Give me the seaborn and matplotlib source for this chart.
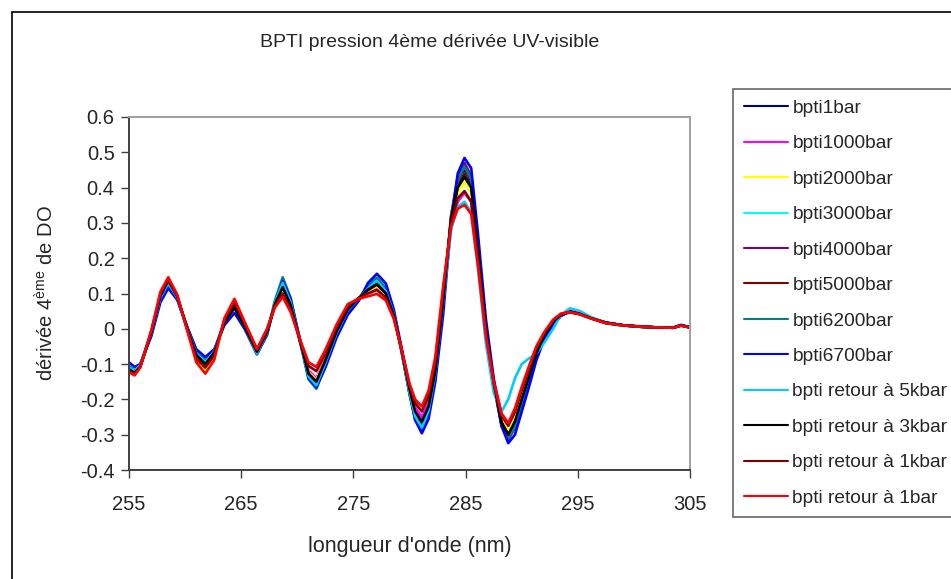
import numpy as np
import pandas as pd
import matplotlib
matplotlib.use("Agg")
import matplotlib.pyplot as plt
from matplotlib.patches import Rectangle
from matplotlib.ticker import FuncFormatter, MultipleLocator
import seaborn as sns

# longueur d'onde (nm), grille commune
lambda_nm = [255, 255.5, 256, 257, 257.8, 258.5, 259.3, 260.2, 261, 261.8,
             262.6, 263.5, 264.4, 265.3, 266.4, 267.3, 268, 268.7, 269.4, 270.3,
             271, 271.7, 272.5, 273.5, 274.5, 275.5, 276.3, 277.1, 277.9, 278.6,
             279.3, 280, 280.5, 281.1, 281.7, 282.3, 283, 283.7, 284.3, 284.9,
             285.5, 286.1, 286.8, 287.5, 288.2, 288.8, 289.4, 290, 290.6, 291.3,
             292, 292.8, 293.5, 294.3, 295.2, 296.2, 297.5, 299, 300.5, 302,
             303.5, 304.2, 305]

bpti1bar = [-0.11, -0.12, -0.105, -0.012, 0.088, 0.13, 0.088, 0.0, -0.074, -0.1,
            -0.068, 0.02, 0.065, 0.01, -0.065, -0.01, 0.07, 0.12, 0.068, -0.042,
            -0.127, -0.15, -0.092, -0.008, 0.055, 0.088, 0.113, 0.13, 0.102, 0.04,
            -0.062, -0.175, -0.24, -0.27, -0.225, -0.125, 0.075, 0.31, 0.415, 0.45,
            0.415, 0.235, 0.005, -0.155, -0.27, -0.31, -0.275, -0.21, -0.15, -0.075,
            -0.022, 0.018, 0.039, 0.048, 0.042, 0.03, 0.017, 0.01, 0.006, 0.004,
            0.003, 0.01, 0.004]
bpti1000bar = [-0.11, -0.12, -0.104, -0.01, 0.092, 0.135, 0.09, 0.0, -0.077, -0.105,
               -0.072, 0.02, 0.07, 0.012, -0.065, -0.01, 0.066, 0.115, 0.066, -0.038,
               -0.118, -0.14, -0.085, -0.008, 0.057, 0.087, 0.105, 0.115, 0.092, 0.036,
               -0.058, -0.16, -0.222, -0.25, -0.208, -0.112, 0.085, 0.285, 0.36, 0.385,
               0.36, 0.2, -0.005, -0.142, -0.24, -0.27, -0.24, -0.185, -0.128, -0.062,
               -0.016, 0.022, 0.041, 0.048, 0.042, 0.03, 0.017, 0.01, 0.006, 0.004,
               0.003, 0.009, 0.004]
bpti2000bar = [-0.115, -0.125, -0.108, -0.01, 0.092, 0.135, 0.09, -0.002, -0.085, -0.115,
               -0.08, 0.018, 0.075, 0.014, -0.065, -0.01, 0.064, 0.11, 0.062, -0.04,
               -0.123, -0.145, -0.088, -0.008, 0.056, 0.087, 0.108, 0.12, 0.097, 0.038,
               -0.06, -0.17, -0.235, -0.265, -0.222, -0.12, 0.08, 0.3, 0.385, 0.415,
               0.385, 0.215, 0.0, -0.15, -0.252, -0.285, -0.252, -0.195, -0.136, -0.068,
               -0.019, 0.02, 0.04, 0.048, 0.042, 0.03, 0.017, 0.01, 0.006, 0.004,
               0.003, 0.01, 0.004]
bpti3000bar = [-0.105, -0.115, -0.1, -0.012, 0.085, 0.125, 0.085, 0.0, -0.07, -0.095,
               -0.065, 0.02, 0.065, 0.01, -0.07, -0.012, 0.074, 0.13, 0.075, -0.043,
               -0.135, -0.16, -0.097, -0.01, 0.054, 0.086, 0.11, 0.125, 0.1, 0.04,
               -0.065, -0.182, -0.252, -0.285, -0.237, -0.13, 0.07, 0.305, 0.405, 0.44,
               0.405, 0.225, 0.0, -0.155, -0.265, -0.3, -0.268, -0.205, -0.145, -0.073,
               -0.021, 0.018, 0.04, 0.05, 0.043, 0.031, 0.017, 0.01, 0.006, 0.004,
               0.003, 0.01, 0.004]
bpti4000bar = [-0.11, -0.12, -0.104, -0.013, 0.087, 0.13, 0.088, 0.0, -0.074, -0.1,
               -0.068, 0.02, 0.065, 0.01, -0.068, -0.012, 0.072, 0.125, 0.072, -0.043,
               -0.135, -0.16, -0.098, -0.012, 0.052, 0.085, 0.112, 0.13, 0.103, 0.041,
               -0.066, -0.185, -0.257, -0.29, -0.242, -0.133, 0.068, 0.32, 0.432, 0.47,
               0.432, 0.245, 0.008, -0.158, -0.275, -0.315, -0.28, -0.215, -0.152, -0.077,
               -0.023, 0.017, 0.039, 0.048, 0.042, 0.03, 0.017, 0.01, 0.006, 0.004,
               0.003, 0.01, 0.004]
bpti5000bar = [-0.115, -0.125, -0.108, -0.011, 0.092, 0.135, 0.09, 0.0, -0.07, -0.095,
               -0.064, 0.021, 0.07, 0.012, -0.065, -0.01, 0.07, 0.12, 0.069, -0.041,
               -0.127, -0.15, -0.091, -0.009, 0.055, 0.087, 0.11, 0.125, 0.1, 0.039,
               -0.062, -0.175, -0.24, -0.27, -0.225, -0.124, 0.075, 0.305, 0.405, 0.44,
               0.405, 0.228, 0.003, -0.153, -0.265, -0.3, -0.267, -0.205, -0.145, -0.073,
               -0.021, 0.018, 0.039, 0.048, 0.042, 0.03, 0.017, 0.01, 0.006, 0.004,
               0.003, 0.01, 0.004]
bpti6200bar = [-0.105, -0.12, -0.103, -0.014, 0.083, 0.125, 0.085, 0.002, -0.066, -0.09,
               -0.06, 0.018, 0.06, 0.006, -0.072, -0.014, 0.08, 0.146, 0.088, -0.045,
               -0.143, -0.17, -0.105, -0.015, 0.05, 0.087, 0.122, 0.145, 0.115, 0.046,
               -0.066, -0.183, -0.252, -0.285, -0.24, -0.133, 0.068, 0.315, 0.422, 0.46,
               0.424, 0.24, 0.007, -0.157, -0.272, -0.31, -0.277, -0.213, -0.15, -0.076,
               -0.023, 0.017, 0.04, 0.05, 0.043, 0.031, 0.017, 0.01, 0.006, 0.004,
               0.003, 0.01, 0.004]
bpti6700bar = [-0.095, -0.108, -0.1, -0.02, 0.075, 0.115, 0.082, 0.005, -0.058, -0.08,
               -0.058, 0.01, 0.045, 0.0, -0.072, -0.018, 0.07, 0.135, 0.085, -0.038,
               -0.14, -0.165, -0.11, -0.025, 0.04, 0.08, 0.13, 0.156, 0.128, 0.055,
               -0.055, -0.18, -0.258, -0.296, -0.255, -0.15, 0.04, 0.3, 0.44, 0.484,
               0.455, 0.27, 0.03, -0.14, -0.275, -0.324, -0.3, -0.235, -0.17, -0.09,
               -0.03, 0.012, 0.036, 0.05, 0.044, 0.031, 0.018, 0.01, 0.007, 0.004,
               0.003, 0.011, 0.004]
retour_5kbar = [-0.11, -0.12, -0.102, -0.012, 0.088, 0.13, 0.088, 0.0, -0.07, -0.095,
                -0.064, 0.018, 0.06, 0.006, -0.07, -0.012, 0.074, 0.13, 0.076, -0.042,
                -0.135, -0.16, -0.097, -0.012, 0.053, 0.086, 0.114, 0.135, 0.106, 0.042,
                -0.062, -0.18, -0.248, -0.28, -0.232, -0.125, 0.075, 0.28, 0.345, 0.36,
                0.33, 0.17, -0.04, -0.18, -0.235, -0.2, -0.14, -0.1, -0.085, -0.07,
                -0.04, 0.0, 0.04, 0.058, 0.05, 0.033, 0.016, 0.008, 0.006, 0.003,
                0.003, 0.009, 0.004]
retour_3kbar = [-0.115, -0.125, -0.107, -0.01, 0.093, 0.137, 0.092, 0.0, -0.074, -0.1,
                -0.067, 0.017, 0.06, 0.006, -0.065, -0.01, 0.069, 0.118, 0.068, -0.04,
                -0.127, -0.15, -0.09, -0.008, 0.055, 0.087, 0.111, 0.127, 0.1, 0.039,
                -0.06, -0.17, -0.234, -0.263, -0.22, -0.12, 0.08, 0.31, 0.4, 0.43,
                0.4, 0.225, 0.002, -0.152, -0.265, -0.3, -0.262, -0.2, -0.14, -0.07,
                -0.02, 0.02, 0.04, 0.048, 0.042, 0.03, 0.017, 0.01, 0.006, 0.004,
                0.003, 0.01, 0.004]
retour_1kbar = [-0.12, -0.128, -0.108, -0.005, 0.098, 0.14, 0.092, -0.004, -0.085, -0.11,
                -0.075, 0.025, 0.075, 0.016, -0.06, -0.004, 0.065, 0.1, 0.055, -0.04,
                -0.105, -0.12, -0.07, 0.005, 0.065, 0.088, 0.1, 0.11, 0.088, 0.032,
                -0.06, -0.16, -0.21, -0.234, -0.19, -0.095, 0.11, 0.3, 0.37, 0.39,
                0.36, 0.2, -0.01, -0.15, -0.245, -0.275, -0.235, -0.175, -0.118, -0.055,
                -0.012, 0.024, 0.042, 0.047, 0.041, 0.029, 0.016, 0.01, 0.006, 0.004,
                0.003, 0.009, 0.004]
retour_1bar = [-0.123, -0.132, -0.11, -0.003, 0.105, 0.146, 0.097, -0.006, -0.095, -0.127,
               -0.088, 0.03, 0.085, 0.02, -0.057, 0.0, 0.06, 0.09, 0.048, -0.035,
               -0.095, -0.108, -0.06, 0.012, 0.07, 0.085, 0.092, 0.099, 0.08, 0.028,
               -0.058, -0.155, -0.2, -0.22, -0.175, -0.08, 0.12, 0.29, 0.34, 0.351,
               0.325, 0.18, -0.02, -0.15, -0.24, -0.267, -0.225, -0.165, -0.11, -0.05,
               -0.01, 0.026, 0.043, 0.047, 0.041, 0.029, 0.016, 0.01, 0.006, 0.004,
               0.003, 0.009, 0.004]

series_names = ["bpti1bar", "bpti1000bar", "bpti2000bar", "bpti3000bar",
                "bpti4000bar", "bpti5000bar", "bpti6200bar", "bpti6700bar",
                "bpti retour à 5kbar", "bpti retour à 3kbar",
                "bpti retour à 1kbar", "bpti retour à 1bar"]
series_values = [bpti1bar, bpti1000bar, bpti2000bar, bpti3000bar,
                 bpti4000bar, bpti5000bar, bpti6200bar, bpti6700bar,
                 retour_5kbar, retour_3kbar, retour_1kbar, retour_1bar]
series_colors = ["#000080", "#FF00FF", "#FFFF00", "#00FFFF",
                 "#800080", "#800000", "#008080", "#0000FF",
                 "#00CCFF", "#000000", "#800000", "#FF0000"]
x_ticks = [255, 265, 275, 285, 295, 305]

rows = []
for name, vals in zip(series_names, series_values):
    for x, y in zip(lambda_nm, vals):
        rows.append({"lambda": x, "val": y, "serie": name})
df = pd.DataFrame(rows)

sns.set_style("white")
plt.rcParams["font.family"] = ["Liberation Sans", "DejaVu Sans"]
plt.rcParams["mathtext.fontset"] = "custom"
plt.rcParams["mathtext.rm"] = "Liberation Sans"
plt.rcParams["mathtext.it"] = "Liberation Sans"

fig = plt.figure(figsize=(9.51, 5.79), dpi=100)
ax = fig.add_axes([129 / 951, 1 - 470 / 579, 561 / 951, 353 / 579])

sns.lineplot(data=df, x="lambda", y="val", hue="serie", hue_order=series_names,
             palette=dict(zip(series_names, series_colors)), sort=False,
             estimator=None, linewidth=1.9, ax=ax)

handles, labels = ax.get_legend_handles_labels()
ax.get_legend().remove()

ax.set_xlim(255, 305)
ax.set_ylim(-0.4, 0.6)
ax.set_xticks(x_ticks)
ax.yaxis.set_major_locator(MultipleLocator(0.1))
ax.yaxis.set_major_formatter(FuncFormatter(lambda v, p: "0" if abs(v) < 1e-9 else f"{v:.1f}"))
ax.tick_params(axis="both", direction="out", length=5.8, width=1, color="#404040",
               labelsize=14.5, left=True, bottom=True)
ax.tick_params(axis="x", pad=12)
ax.tick_params(axis="y", pad=4.5)

for s in ["left", "bottom"]:
    ax.spines[s].set_color("#404040")
    ax.spines[s].set_linewidth(1.4)
for s in ["top", "right"]:
    ax.spines[s].set_color("#a0a0a0")
    ax.spines[s].set_linewidth(1.4)

ax.set_xlabel("longueur d'onde (nm)", fontsize=15.5, labelpad=16)
ax.set_ylabel("dérivée 4$^{\\mathrm{ème}}$ de DO", fontsize=14.5, labelpad=16)

fig.text(0.452, 0.926, "BPTI pression 4ème dérivée UV-visible", fontsize=14,
         ha="center", va="center")

leg = fig.legend(handles, labels, loc="upper left", bbox_to_anchor=(733 / 951, 1 - 89 / 579),
                 frameon=True, fancybox=False, edgecolor="#404040", fontsize=13.8,
                 handlelength=2.3, handletextpad=0.25, labelspacing=0.94,
                 borderpad=0.55, borderaxespad=0)
leg.get_frame().set_linewidth(1.2)
for h in leg.get_lines():
    h.set_linewidth(1.5)

fig.patches.append(Rectangle((12 / 951, -0.5), 2, 0.5 + 1 - 12 / 579,
                             transform=fig.transFigure, fill=False,
                             edgecolor="black", linewidth=1.2))

fig.savefig("out.png", dpi=100)
